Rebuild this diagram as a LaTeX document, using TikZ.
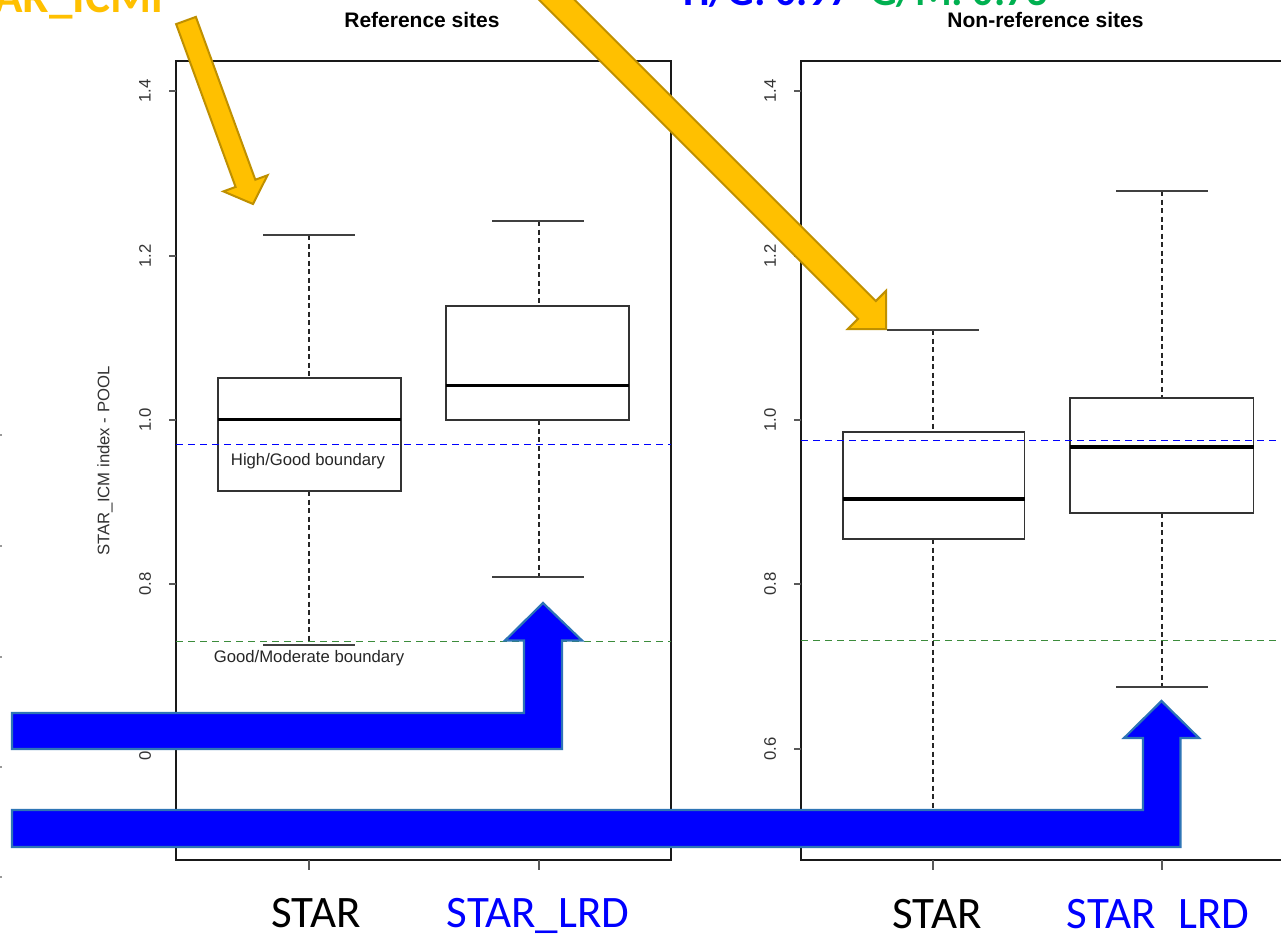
\documentclass[tikz,border=0pt]{standalone}
\usepackage{fontspec}
\setmainfont{Liberation Sans}
\newfontfamily\calib{Carlito}
\usetikzlibrary{calc}
\definecolor{orangefill}{HTML}{FFC000}
\definecolor{orangeedge}{HTML}{BF9000}
\definecolor{bluefill}{HTML}{0000FF}
\definecolor{blueedge}{HTML}{2E75B6}
\definecolor{gmline}{HTML}{3C8C3C}
\definecolor{gmtext}{HTML}{00B050}
\begin{document}
\begin{tikzpicture}[x=1pt,y=-1pt,
  frame/.style={draw=black!90,line width=1.2pt},
  boxst/.style={draw=black!80,line width=1.5pt,fill=white},
  medst/.style={draw=black,line width=3.5pt},
  whisk/.style={draw=black!85,line width=1.1pt,dash pattern=on 5pt off 3.5pt},
  capst/.style={draw=black!75,line width=1.4pt},
  tickst/.style={draw=black!65,line width=1.1pt},
  ticklab/.style={font=\fontsize{16.7}{20}\selectfont,rotate=90,inner sep=0pt,text=black!80},
  annot/.style={font=\fontsize{16.7}{20}\selectfont,inner sep=0pt,anchor=base,text=black!85},
  titlest/.style={font=\fontsize{21}{25}\selectfont\bfseries,inner sep=0pt,anchor=base},
  catlab/.style={font=\calib\fontsize{45}{50}\selectfont,inner sep=0pt,anchor=base},
  hgline/.style={draw=bluefill,line width=1pt,dash pattern=on 7pt off 5pt},
  gmdash/.style={draw=gmline,line width=1pt,dash pattern=on 7pt off 5pt},
  orangearrow/.style={fill=orangefill,draw=orangeedge,line width=2pt,line join=miter},
  bluearrow/.style={fill=bluefill,draw=blueedge,line width=2.2pt,line join=miter},
  topst/.style={font=\calib\bfseries\fontsize{42}{46}\selectfont,inner sep=0pt}
]
\useasboundingbox (0,0) rectangle (1281,935);
\clip (0,0) rectangle (1281,935);
\fill[white] (0,0) rectangle (1281,935);

% stray dots at left edge
\foreach \yy in {435,546,657,767,877} \fill[black!40] (0,\yy-1) rectangle (2,\yy+1);

% top partially visible texts
\node[topst,font=\calib\bfseries\fontsize{47}{50}\selectfont,text=orangefill,anchor=base east] (toptitle) at (163,12) {STAR\_ICMi};
\node[topst,text=bluefill,anchor=base west] (tophg) at (683,5) {H/G: 0.97};
\node[topst,text=gmtext,anchor=base west] (topgm) at (870,5) {G/M: 0.73};

% titles
\node[titlest] (t1) at (422,27.5) {Reference sites};
\node[titlest] (t2) at (1045.5,27.5) {Non-reference sites};

% ===== left panel =====
\draw[frame] (176,61) rectangle (671,860);
\foreach \v/\yy in {1.4/91,1.2/256,1.0/420,0.8/584,0.6/749}{
  \draw[tickst] (169,\yy) -- (176,\yy);
  \node[ticklab] at (145,\yy) {\v};
}
\node[ticklab] (ylab) at (105,461) {STAR\_ICM index - POOL};
\foreach \xx in {309,539} \draw[tickst] (\xx,860) -- (\xx,870);

% STAR box (reference)
\draw[whisk] (309,235) -- (309,378);
\draw[whisk] (309,491) -- (309,645);
\draw[capst] (263,235) -- (355,235);
\draw[capst] (263,645) -- (355,645);
\draw[boxst] (218,378) rectangle (401,491);
\draw[medst] (218,419.5) -- (401,419.5);
% STAR_LRD box (reference)
\draw[whisk] (539,221) -- (539,306);
\draw[whisk] (539,420) -- (539,577);
\draw[capst] (492,221) -- (584,221);
\draw[capst] (492,577) -- (584,577);
\draw[boxst] (446,306) rectangle (629,420);
\draw[medst] (446,385.5) -- (629,385.5);

\draw[hgline] (176,444) -- (671,444);
\draw[gmdash] (176,641) -- (671,641);
\node[annot] (hglab) at (308,465) {High/Good boundary};
\node[annot] (gmlab) at (309,662) {Good/Moderate boundary};

% ===== right panel =====
\draw[frame] (801,61) rectangle (1295,860);
\foreach \v/\yy in {1.4/91,1.2/256,1.0/420,0.8/584,0.6/749}{
  \draw[tickst] (794,\yy) -- (801,\yy);
  \node[ticklab] at (770,\yy) {\v};
}
\foreach \xx in {933,1162} \draw[tickst] (\xx,860) -- (\xx,870);

% STAR box (non-reference)
\draw[whisk] (933,330) -- (933,432);
\draw[whisk] (933,539) -- (933,830);
\draw[capst] (887,330) -- (979,330);
\draw[boxst] (843,432) rectangle (1024.5,539);
\draw[medst] (843,499) -- (1024.5,499);
% STAR_LRD box (non-reference)
\draw[whisk] (1162,191) -- (1162,398);
\draw[whisk] (1162,513) -- (1162,687);
\draw[capst] (1116,191) -- (1208,191);
\draw[capst] (1116,687) -- (1208,687);
\draw[boxst] (1070,398) rectangle (1253.5,513);
\draw[medst] (1070,447) -- (1253.5,447);

\draw[hgline] (801,440) -- (1281,440);
\draw[gmdash] (801,640) -- (1281,640);

% category labels
\node[catlab] (c1) at (316,927) {STAR};
\node[catlab,text=bluefill] (c2) at (538,927) {STAR\_LRD};
\node[catlab] (c3) at (937,928.5) {STAR};
\begin{scope}
\clip (1040,880) rectangle (1281,929.5);
\node[catlab,text=bluefill] (c4) at (1158,928.5) {STAR\_LRD};
\end{scope}

% ===== orange arrows =====
\coordinate (a1t) at (186,20.5);
\coordinate (a1h) at (253,204);
\coordinate (a1c) at ($(a1h)!22pt!(a1t)$);
\draw[orangearrow] ($(a1t)!10.5pt!90:(a1h)$) -- ($(a1c)!10.5pt!90:(a1h)$) -- ($(a1c)!23.5pt!90:(a1h)$)
  -- (a1h) -- ($(a1c)!23.5pt!-90:(a1h)$) -- ($(a1c)!10.5pt!-90:(a1h)$) -- ($(a1t)!10.5pt!-90:(a1h)$) -- cycle;

\coordinate (a2t) at (500,-57);
\coordinate (a2h) at (886,329);
\coordinate (a2c) at ($(a2h)!27pt!(a2t)$);
\draw[orangearrow] ($(a2t)!12.5pt!90:(a2h)$) -- ($(a2c)!12.5pt!90:(a2h)$) -- ($(a2c)!27pt!90:(a2h)$)
  -- (a2h) -- ($(a2c)!27pt!-90:(a2h)$) -- ($(a2c)!12.5pt!-90:(a2h)$) -- ($(a2t)!12.5pt!-90:(a2h)$) -- cycle;

% ===== blue bent arrows =====
\draw[bluearrow] (12,713) -- (524,713) -- (524,640.5) -- (505,640.5) -- (543,603) -- (582,640.5)
  -- (562,640.5) -- (562,749) -- (12,749) -- cycle;
\draw[bluearrow] (12,810) -- (1143,810) -- (1143,738) -- (1124,738) -- (1161.5,701) -- (1199,738)
  -- (1180.5,738) -- (1180.5,847) -- (12,847) -- cycle;
\end{tikzpicture}
\end{document}
